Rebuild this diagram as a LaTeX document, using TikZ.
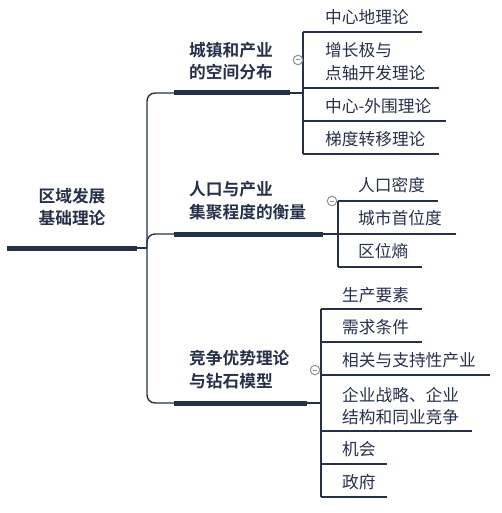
\documentclass[tikz,border=0pt]{standalone}
\usepackage{fontspec}
\setmainfont{Noto Sans CJK SC}[BoldFont={Noto Sans CJK SC Bold}]
\definecolor{navy}{HTML}{253049}
\definecolor{iconc}{HTML}{8C919B}
\begin{document}
\begin{tikzpicture}[x=1pt,y=-1pt,
  every node/.style={inner sep=0pt, text=navy, font=\fontsize{16.7}{22.5}\selectfont},
  title/.style={font=\fontsize{16.7}{22.5}\selectfont\bfseries, align=left, anchor=west},
  leaf/.style={align=left, anchor=west},
  thinln/.style={draw=navy, line width=1.4pt},
  barln/.style={draw=navy, line width=5pt},
  ctl/.style={circle, draw=iconc, fill=white, line width=1pt, minimum size=9.5pt, inner sep=0pt}
]
\useasboundingbox (0,0) rectangle (501,513);
% root
\node[title, align=center, anchor=center] (root) at (72,207) {区域发展\\基础理论};
\coordinate (rootL) at (7,248);
\coordinate (rootR) at (137,248);
\coordinate (spineM) at (147,248);
\draw[barln] (rootL) -- (rootR);
\draw[thinln] (rootR) -- (spineM);
% spine
\coordinate (g1L) at (174,93);
\coordinate (g2L) at (174,234);
\coordinate (g3L) at (174,403);
\draw[thinln, rounded corners=8] (g1L) -- (147,93) -- (147,403) -- (g3L);
\draw[thinln, rounded corners=8] (spineM) -- (147,234) -- (g2L);

% group 1
\node[title] (g1) at (189,61) {城镇和产业\\的空间分布};
\coordinate (g1R) at (290,93);
\coordinate (v1) at (303,93);
\draw[barln] (g1L) -- (g1R);
\draw[thinln] (g1R) -- (v1);
\draw[thinln] (303,32) -- (303,154);
\draw[thinln] (303,32) -- (422,32);
\draw[thinln] (303,88) -- (439,88);
\draw[thinln] (303,121) -- (446,121);
\draw[thinln] (303,154) -- (439,154);
\node[leaf] (a1) at (325,17) {中心地理论};
\node[leaf] (a2) at (325,61.5) {增长极与\\点轴开发理论};
\node[leaf] (a3) at (325,106) {中心-外围理论};
\node[leaf] (a4) at (325,139) {梯度转移理论};
\node[ctl] (c1) at (298,60) {};
\draw[iconc, line width=1pt] ([xshift=-2.3pt]c1.center) -- ([xshift=2.3pt]c1.center);

% group 2
\node[title] (g2) at (189,200.5) {人口与产业\\集聚程度的衡量};
\coordinate (g2R) at (323,234);
\coordinate (v2) at (338,234);
\draw[barln] (g2L) -- (g2R);
\draw[thinln] (g2R) -- (v2);
\draw[thinln] (338,201) -- (338,267);
\draw[thinln] (338,201) -- (438,201);
\draw[thinln] (338,234) -- (456,234);
\draw[thinln] (338,267) -- (422,267);
\node[leaf] (b1) at (358,185) {人口密度};
\node[leaf] (b2) at (358,218) {城市首位度};
\node[leaf] (b3) at (358,251) {区位熵};
\node[ctl] (c2) at (332,201) {};
\draw[iconc, line width=1pt] ([xshift=-2.3pt]c2.center) -- ([xshift=2.3pt]c2.center);

% group 3
\node[title] (g3) at (189,369.5) {竞争优势理论\\与钻石模型};
\coordinate (g3R) at (307,403);
\coordinate (v3) at (321,403);
\draw[barln] (g3L) -- (g3R);
\draw[thinln] (g3R) -- (v3);
\draw[thinln] (321,309) -- (321,497);
\draw[thinln] (321,309) -- (422,309);
\draw[thinln] (321,342) -- (422,342);
\draw[thinln] (321,375) -- (490,375);
\draw[thinln] (321,431) -- (472,431);
\draw[thinln] (321,464) -- (387,464);
\draw[thinln] (321,497) -- (387,497);
\node[leaf] (d1) at (342,295) {生产要素};
\node[leaf] (d2) at (342,327) {需求条件};
\node[leaf] (d3) at (342,360) {相关与支持性产业};
\node[leaf] (d4) at (342,406) {企业战略、企业\\结构和同业竞争};
\node[leaf] (d5) at (342,449) {机会};
\node[leaf] (d6) at (342,482) {政府};
\node[ctl] (c3) at (315,370) {};
\draw[iconc, line width=1pt] ([xshift=-2.3pt]c3.center) -- ([xshift=2.3pt]c3.center);
\end{tikzpicture}
\end{document}
